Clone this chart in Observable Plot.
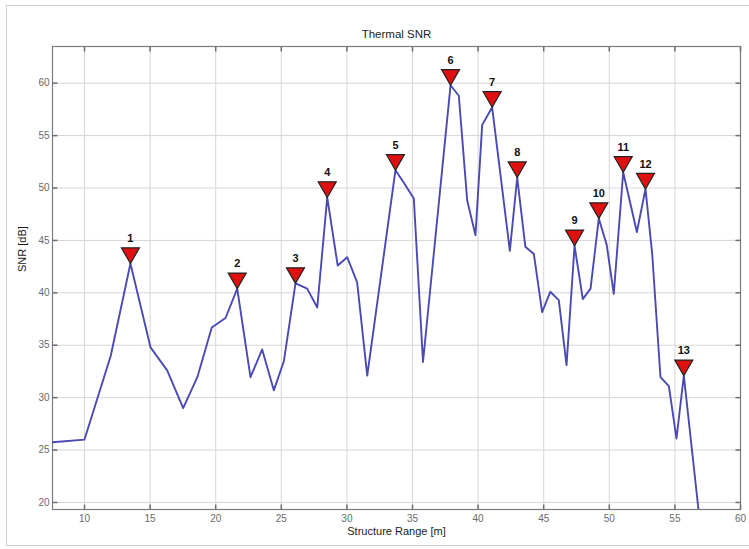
<!DOCTYPE html>
<html>
<head>
<meta charset="utf-8">
<script src="https://cdn.jsdelivr.net/npm/d3@7"></script>
<script src="https://cdn.jsdelivr.net/npm/@observablehq/plot@0.6"></script>
<style>
  body { margin: 0; background: #ffffff; }
  #wrap { position: relative; width: 749px; height: 549px; overflow: hidden; background: #ffffff; }
  #wrap svg { position: absolute; left: 0; top: 0; }
  #border { position: absolute; left: 6px; top: 5px; width: 760px; height: 539px; border: 1px solid #cfcfcf; pointer-events: none; }
</style>
</head>
<body>
<div id="wrap"><div id="border"></div></div>
<script>
// Structure range (m) and thermal SNR (dB)
const rangeM = [7.56, 10.0, 12.0, 13.5, 15.03, 16.3, 17.52, 18.6, 19.7, 20.75,
  21.64, 22.65, 23.54, 24.43, 25.2, 26.08, 26.97, 27.74, 28.5, 29.3,
  30.02, 30.78, 31.55, 33.7, 34.34, 35.1, 35.8, 37.9, 38.53, 39.17,
  39.8, 40.31, 41.07, 42.42, 42.98, 43.6, 44.25, 44.88, 45.5, 46.15,
  46.74, 47.35, 47.98, 48.57, 49.2, 49.8, 50.34, 51.06, 52.1, 52.76,
  53.27, 53.9, 54.54, 55.12, 55.68, 57.0];
const snrDb = [25.75, 26.0, 34.0, 42.8, 34.8, 32.6, 29.0, 31.95, 36.7, 37.6,
  40.4, 31.95, 34.6, 30.7, 33.5, 40.9, 40.4, 38.6, 49.1, 42.6,
  43.4, 41.0, 32.1, 51.7, 50.5, 49.0, 33.4, 59.8, 58.8, 48.8,
  45.5, 56.0, 57.7, 44.0, 51.0, 44.4, 43.7, 38.15, 40.1, 39.3,
  33.1, 44.5, 39.4, 40.4, 47.1, 44.6, 39.9, 51.5, 45.8, 49.9,
  43.7, 31.95, 31.1, 26.1, 32.1, 17.0];
// Marked peaks: index into the series, and their labels
const peakIndex = [3, 10, 15, 18, 23, 27, 32, 34, 41, 44, 47, 49, 54];
const peakLabels = ["1", "2", "3", "4", "5", "6", "7", "8", "9", "10", "11", "12", "13"];
// Axis ticks
const xTicks = [10, 15, 20, 25, 30, 35, 40, 45, 50, 55, 60];
const yTicks = [20, 25, 30, 35, 40, 45, 50, 55, 60];
const titleText = "Thermal SNR";
const xLabel = "Structure Range [m]";
const yLabel = "SNR [dB]";

const series = rangeM.map((x, i) => ({x, y: snrDb[i]}));
const peaks = peakIndex.map((k, i) => ({x: rangeM[k], y: snrDb[k], label: peakLabels[i]}));

const tickIn = (dx, dy) => ({draw(ctx) { ctx.moveTo(0, 0); ctx.lineTo(dx, dy); }});
const tickColor = "#6e6e6e";
const font = "'Liberation Sans', Arial, Helvetica, sans-serif";

const chart = Plot.plot({
  width: 749,
  height: 549,
  marginLeft: 52,
  marginRight: 9,
  marginTop: 46,
  marginBottom: 40,
  style: {fontFamily: font, background: "transparent"},
  x: {domain: [7.56, 60], ticks: xTicks},
  y: {domain: [19.33, 63.5], ticks: yTicks},
  marks: [
    Plot.gridX(xTicks, {stroke: "#d6d6d6", strokeOpacity: 1, strokeWidth: 1}),
    Plot.gridY(yTicks, {stroke: "#d6d6d6", strokeOpacity: 1, strokeWidth: 1}),
    Plot.frame({stroke: "#7c7c7c", strokeWidth: 1.2}),
    // inward ticks on all four sides
    Plot.dot(xTicks, {x: d => d, frameAnchor: "bottom", symbol: tickIn(0, -5), stroke: tickColor, fill: "none", r: 3}),
    Plot.dot(xTicks, {x: d => d, frameAnchor: "top", symbol: tickIn(0, 5), stroke: tickColor, fill: "none", r: 3}),
    Plot.dot(yTicks, {y: d => d, frameAnchor: "left", symbol: tickIn(5, 0), stroke: tickColor, fill: "none", r: 3}),
    Plot.dot(yTicks, {y: d => d, frameAnchor: "right", symbol: tickIn(-5, 0), stroke: tickColor, fill: "none", r: 3}),
    Plot.axisX(xTicks, {tickSize: 0, tickPadding: 5, label: null, fontSize: 10, fill: "#6a6a6a"}),
    Plot.axisY(yTicks, {tickSize: 0, tickPadding: 3, label: null, fontSize: 10, fill: "#6a6a6a"}),
    Plot.line(series, {x: "x", y: "y", stroke: "#4a4ab4", strokeWidth: 1.9, clip: true}),
    Plot.dot(peaks, {x: "x", y: "y", symbol: "triangle", rotate: 180, r: 6.7, dy: -10.4,
      fill: "#e01010", stroke: "#222", strokeWidth: 1.2}),
    Plot.text(peaks, {x: "x", y: "y", text: "label", dy: -25, fontSize: 11, fontWeight: "bold", fill: "#111"}),
    Plot.text([titleText], {frameAnchor: "top", dy: -17, fontSize: 11.5, fill: "#222"}),
    Plot.text([xLabel], {frameAnchor: "bottom", dy: 25, fontSize: 11, fill: "#1a1a1a"}),
    Plot.text([yLabel], {frameAnchor: "left", rotate: -90, dx: -30, dy: -6, fontSize: 11, fill: "#1a1a1a"})
  ]
});
document.getElementById("wrap").prepend(chart);
</script>
</body>
</html>
